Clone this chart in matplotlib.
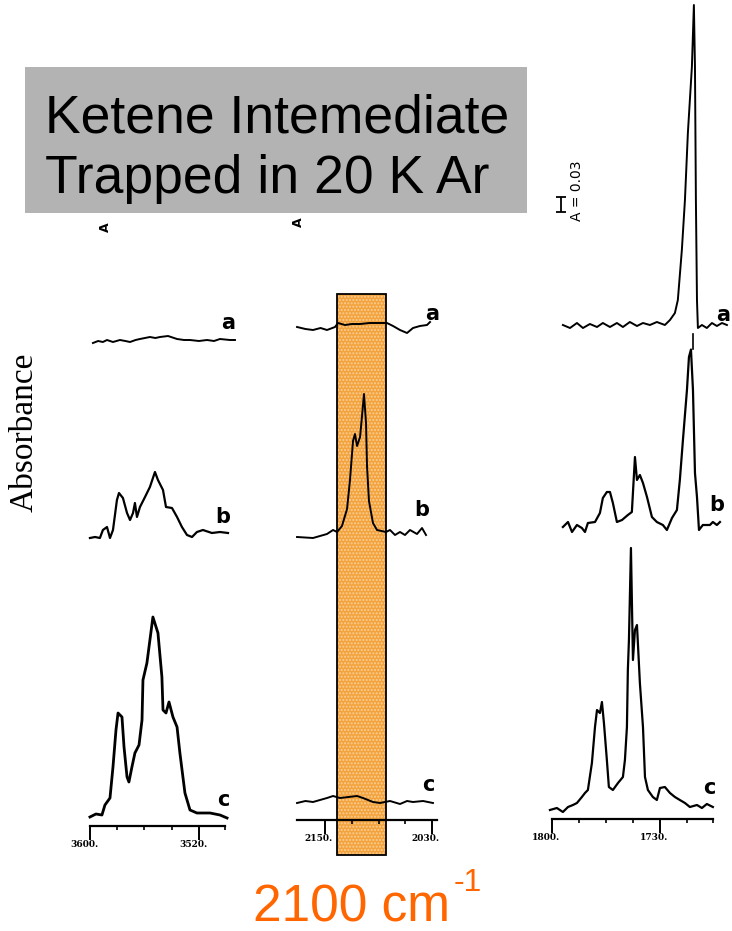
import matplotlib
matplotlib.use('Agg')
import numpy as np
import matplotlib.pyplot as plt
import matplotlib.transforms as mtransforms
from matplotlib.patches import Rectangle

W, H = 732, 931
A_PER_PX = 0.002   # absorbance per pixel of the scanned page

# ---- O-H region (left), absorbance relative to each trace baseline
oh_a_wn = [3597.8, 3594.0, 3590.5, 3587.5, 3583.1, 3578.0, 3574.0, 3570.6, 3566.5, 3563.3, 3556.0, 3552.0,
           3548.6, 3542.7, 3536.1, 3531.0, 3526.6, 3520.0, 3514.1, 3509.0, 3504.6, 3497.3, 3493.6]
oh_a_abs = [-0.004, 0.000, -0.002, 0.002, -0.002, 0.002, 0.000, -0.002, 0.002, 0.004, 0.008, 0.006,
            0.008, 0.010, 0.004, 0.002, 0.002, 0.000, 0.002, 0.000, 0.004, 0.002, 0.002]
oh_b_wn = [3600.0, 3596.3, 3592.7, 3590.5, 3587.5, 3585.3, 3583.1, 3580.2, 3578.7, 3575.8, 3572.8, 3570.6,
           3568.4, 3567.0, 3565.5, 3563.3, 3559.6, 3556.0, 3552.3, 3550.1, 3546.4, 3544.2, 3539.8, 3536.1,
           3532.5, 3528.8, 3525.1, 3521.5, 3517.1, 3510.5, 3504.6, 3498.7]
oh_b_abs = [-0.006, -0.004, -0.006, 0.010, 0.016, -0.006, 0.010, 0.070, 0.084, 0.074, 0.044, 0.030,
            0.044, 0.064, 0.036, 0.056, 0.076, 0.096, 0.126, 0.110, 0.090, 0.056, 0.054, 0.036,
            0.016, 0.000, -0.004, 0.006, 0.010, 0.004, 0.006, 0.004]
oh_c_wn = [3600.0, 3595.6, 3591.2, 3589.0, 3585.3, 3583.1, 3580.9, 3579.4, 3576.5, 3575.0, 3572.8, 3571.4,
           3569.2, 3567.0, 3564.0, 3561.8, 3561.1, 3558.2, 3556.0, 3553.8, 3550.1, 3547.2, 3546.4, 3544.2,
           3542.0, 3539.1, 3536.1, 3534.0, 3530.3, 3526.6, 3521.5, 3511.9, 3504.6, 3499.4]
oh_c_abs = [-0.004, 0.002, 0.000, 0.020, 0.034, 0.096, 0.170, 0.204, 0.196, 0.136, 0.076, 0.066,
            0.096, 0.124, 0.140, 0.190, 0.270, 0.304, 0.350, 0.396, 0.364, 0.276, 0.210, 0.204,
            0.226, 0.196, 0.176, 0.124, 0.044, 0.010, 0.004, 0.004, 0.000, -0.006]

# ---- ketene C=C=O region (middle)
kt_a_wn = [2181.4, 2172.0, 2163.5, 2155.0, 2147.8, 2138.8, 2135.4, 2127.6, 2120.0, 2110.7, 2100.0, 2088.3,
           2080.5, 2073.7, 2065.9, 2058.0, 2051.3, 2043.5, 2035.6, 2032.2]
kt_a_abs = [-0.002, -0.006, -0.008, -0.004, -0.008, -0.002, 0.006, 0.002, 0.004, 0.004, 0.006, 0.006,
            0.006, 0.000, -0.008, -0.014, -0.004, 0.000, 0.002, 0.008]
kt_b_wn = [2181.4, 2163.5, 2147.8, 2141.0, 2136.5, 2131.0, 2125.3, 2122.0, 2118.6, 2116.4, 2114.1, 2110.7,
           2108.5, 2106.3, 2104.0, 2102.9, 2100.7, 2096.2, 2091.7, 2081.6, 2077.1, 2071.5, 2065.9, 2060.3,
           2054.7, 2046.8, 2041.2, 2036.7]
kt_b_abs = [-0.002, -0.004, 0.004, 0.012, 0.008, 0.020, 0.054, 0.112, 0.190, 0.204, 0.180, 0.198,
            0.240, 0.284, 0.226, 0.140, 0.070, 0.026, 0.012, 0.008, 0.012, 0.002, 0.008, 0.002,
            0.012, 0.004, 0.016, 0.002]
kt_c_wn = [2181.4, 2172.0, 2163.5, 2147.8, 2141.0, 2133.2, 2114.1, 2107.4, 2096.2, 2088.3, 2077.1, 2065.9,
           2058.0, 2051.3, 2040.0, 2028.9]
kt_c_abs = [-0.002, 0.002, 0.000, 0.008, 0.012, 0.008, 0.012, 0.008, 0.000, -0.002, 0.002, -0.004,
            0.002, 0.000, 0.002, -0.002]

# ---- C=O region (right)
co_a_wn = [1792.9, 1788.3, 1783.8, 1779.9, 1775.4, 1770.8, 1767.0, 1762.4, 1757.9, 1754.0, 1749.5, 1744.9,
           1741.0, 1736.5, 1732.0, 1726.8, 1723.5, 1720.3, 1718.4, 1715.8, 1713.8, 1711.9, 1709.3, 1708.0,
           1707.3, 1706.7, 1706.0, 1705.4, 1702.8, 1699.6, 1696.3, 1693.1, 1689.8, 1686.6]
co_a_abs = [0.000, -0.006, 0.004, -0.006, 0.002, -0.004, 0.004, -0.004, 0.004, -0.004, 0.006, -0.002,
            0.004, 0.000, 0.006, 0.000, 0.010, 0.024, 0.050, 0.150, 0.250, 0.384, 0.516, 0.640,
            0.516, 0.250, 0.050, -0.006, 0.000, -0.006, 0.004, -0.002, 0.004, 0.000]
co_b_wn = [1792.9, 1789.6, 1787.0, 1783.8, 1780.6, 1778.6, 1776.7, 1772.1, 1768.9, 1767.0, 1764.4, 1762.4,
           1760.5, 1757.9, 1754.6, 1750.8, 1748.2, 1746.2, 1744.9, 1743.0, 1741.0, 1738.4, 1735.2, 1732.0,
           1728.1, 1725.5, 1722.2, 1719.0, 1717.1, 1715.1, 1712.5, 1711.2, 1709.9, 1708.6, 1707.3, 1706.0,
           1704.7, 1702.2, 1697.6, 1695.7, 1693.1, 1691.1]
co_b_abs = [0.000, 0.010, -0.010, 0.004, -0.002, -0.010, 0.008, 0.010, 0.028, 0.058, 0.070, 0.070,
            0.048, 0.010, 0.014, 0.024, 0.030, 0.140, 0.094, 0.104, 0.088, 0.060, 0.020, 0.010,
            0.004, -0.006, 0.018, 0.034, 0.094, 0.174, 0.274, 0.340, 0.355, 0.274, 0.108, 0.060,
            -0.006, 0.004, 0.004, 0.010, 0.004, 0.010]
co_c_wn = [1801.3, 1796.8, 1792.9, 1789.6, 1786.4, 1783.8, 1780.6, 1778.6, 1776.7, 1774.1, 1772.1, 1770.8,
           1768.9, 1767.6, 1766.3, 1764.4, 1763.1, 1760.5, 1757.2, 1754.0, 1752.7, 1751.4, 1750.8, 1750.1,
           1748.8, 1747.5, 1746.2, 1744.9, 1744.3, 1743.0, 1741.0, 1739.7, 1737.8, 1734.6, 1732.0, 1730.0,
           1726.8, 1723.5, 1720.3, 1717.1, 1713.8, 1710.6, 1706.0, 1702.8, 1699.6, 1695.7]
co_c_abs = [0.000, 0.004, -0.004, 0.006, 0.010, 0.014, 0.026, 0.034, 0.040, 0.094, 0.166, 0.200,
            0.194, 0.216, 0.174, 0.100, 0.046, 0.040, 0.054, 0.066, 0.100, 0.166, 0.280, 0.340,
            0.524, 0.300, 0.360, 0.370, 0.334, 0.254, 0.166, 0.066, 0.040, 0.026, 0.020, 0.044,
            0.046, 0.034, 0.026, 0.020, 0.014, 0.006, 0.010, 0.004, 0.012, 0.006]

trace_names = ['a', 'b', 'c']
oh_offsets = [0.970, 0.582, 0.022]
kt_offsets = [0.988, 0.568, 0.036]
co_offsets = [0.988, 0.584, 0.018]

ketene_band = (2136.5, 2081.6)   # highlighted region, cm-1
scale_bar = 0.03


def fx(px):
    return px / W


def fy(py):
    return 1 - py / H


fig = plt.figure(figsize=(W / 100, H / 100), dpi=100)


def make_panel(left_px, right_px, axis_px, xlim, bounds, majors, major_labels, minors):
    ax = fig.add_axes([fx(left_px), fy(axis_px), (right_px - left_px) / W, axis_px / H])
    ax.set_xlim(*xlim)
    ax.set_ylim(0, axis_px * A_PER_PX)
    for s in ['top', 'left', 'right']:
        ax.spines[s].set_visible(False)
    ax.spines['bottom'].set_bounds(*bounds)
    ax.spines['bottom'].set_linewidth(1.6)
    ax.set_yticks([])
    ax.set_xticks(majors)
    ax.set_xticklabels(major_labels, fontsize=6.5, fontweight='bold', family='DejaVu Serif')
    ax.set_xticks(minors, minor=True)
    ax.tick_params(axis='x', which='major', direction='out', length=10, width=1.4, pad=0)
    ax.tick_params(axis='x', which='minor', direction='out', length=3, width=1.2)
    # labels sit a little to the left of their tick, as in the scan
    shift = mtransforms.ScaledTranslation(-6 / 100, 0, fig.dpi_scale_trans)
    for lab in ax.get_xticklabels():
        lab.set_transform(lab.get_transform() + shift)
    ax.patch.set_visible(False)
    return ax


def draw_traces(ax, traces, offsets, label_pos, lws):
    for (wn, ab), off, name, pos, lw in zip(traces, offsets, trace_names, label_pos, lws):
        ax.plot(wn, np.array(ab) + off, color='black', lw=lw, zorder=3, solid_joinstyle='round')
        ax.text(pos[0], pos[1], name, fontsize=15, fontweight='bold', ha='center', va='center',
                family='DejaVu Sans', zorder=4)


ax1 = make_panel(80, 240, 826, (3607.3, 3489.9), (3600, 3501),
                 [3600, 3520], ['3600.', '3520.'], [3580, 3560, 3540, 3501])
draw_traces(ax1, [(oh_a_wn, oh_a_abs), (oh_b_wn, oh_b_abs), (oh_c_wn, oh_c_abs)], oh_offsets,
            [(3498.7, 1.006), (3502.4, 0.618), (3502.4, 0.052)], [1.4, 1.6, 2.0])

ax2 = make_panel(290, 445, 820, (2189.3, 2015.4), (2181.4, 2024.4),
                 [2150, 2030], ['2150.', '2030.'], [2120, 2090, 2060])
draw_traces(ax2, [(kt_a_wn, kt_a_abs), (kt_b_wn, kt_b_abs), (kt_c_wn, kt_c_abs)], kt_offsets,
            [(2030.0, 1.012), (2041.2, 0.620), (2034.5, 0.070)], [1.4, 1.4, 1.4])
band_y0, band_y1 = -0.07, 1.052
ax2.add_patch(Rectangle((ketene_band[0], band_y0), ketene_band[1] - ketene_band[0], band_y1 - band_y0,
                        facecolor='#f3a23c', edgecolor='none', zorder=1, clip_on=False))
ax2.add_patch(Rectangle((ketene_band[0], band_y0), ketene_band[1] - ketene_band[0], band_y1 - band_y0,
                        fill=False, hatch='.....', edgecolor='#f9cf95', lw=0, zorder=1.5, clip_on=False))
ax2.add_patch(Rectangle((ketene_band[0], band_y0), ketene_band[1] - ketene_band[0], band_y1 - band_y0,
                        fill=False, edgecolor='black', lw=1.3, zorder=5, clip_on=False))

ax3 = make_panel(545, 732, 819, (1804.5, 1683.3), (1800, 1695.7),
                 [1800, 1730], ['1800.', '1730.'], [1782.5, 1765, 1747.5, 1712.5, 1695.7])
draw_traces(ax3, [(co_a_wn, co_a_abs), (co_b_wn, co_b_abs), (co_c_wn, co_c_abs)], co_offsets,
            [(1689.0, 1.008), (1693.1, 0.628), (1698.3, 0.062)], [1.4, 1.6, 1.6])
# absorbance scale bar
ax3.errorbar([1794.2], [1.214 + scale_bar / 2], yerr=[scale_bar / 2], color='black',
             elinewidth=1.3, capsize=3.5, capthick=1.3, fmt='none')
ax3.text(1783.5, 1.256, 'A = 0.03', rotation=90, fontsize=10, ha='center', va='center',
         family='DejaVu Sans')
ax3.plot([1708.3, 1708.3], [0.97, 0.94], color='black', lw=1.2)

# title box
fig.patches.append(Rectangle((fx(25), fy(213)), 502 / W, 146 / H, transform=fig.transFigure,
                             facecolor='#b3b3b3', edgecolor='none', zorder=1))
fig.text(fx(45), fy(133), 'Ketene Intemediate', fontsize=38.5, family='Liberation Sans',
         ha='left', va='baseline')
fig.text(fx(45), fy(193), 'Trapped in 20 K Ar', fontsize=38.5, family='Liberation Sans',
         ha='left', va='baseline')

# remnants of the cut scale labels
fig.text(fx(105), fy(227), 'A', rotation=90, fontsize=9, fontweight='bold', ha='center', va='center')
fig.text(fx(298), fy(222), 'A', rotation=90, fontsize=9, fontweight='bold', ha='center', va='center')

fig.text(fx(24), fy(432), 'Absorbance', rotation=90, fontsize=24, family='Liberation Serif',
         ha='center', va='center')

fig.text(fx(253), fy(921), '2100 cm', fontsize=37, color='#ff6600',
         family='Liberation Sans', ha='left', va='baseline')
fig.text(fx(454), fy(891), '-1', fontsize=23, color='#ff6600',
         family='Liberation Sans', ha='left', va='baseline')

fig.savefig('out.png', dpi=100)
